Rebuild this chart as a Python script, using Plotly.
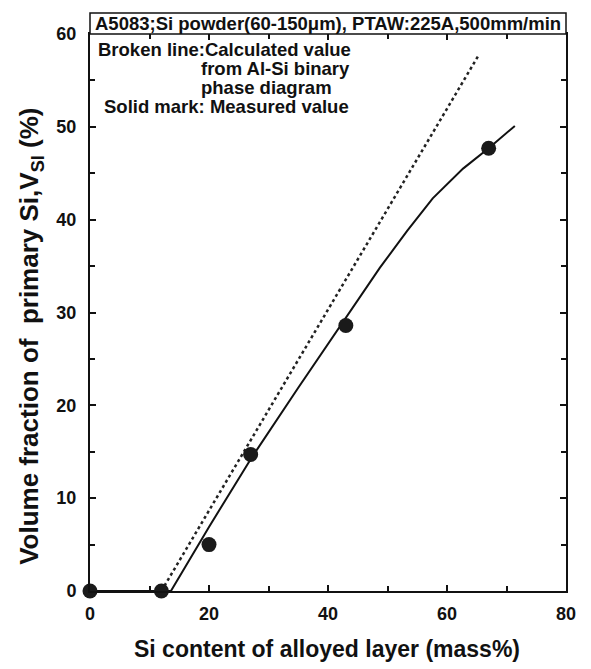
import plotly.graph_objects as go

# Measured values (solid marks)
meas_x = [0, 12, 20, 27, 43, 67]
meas_y = [0, 0, 5.0, 14.7, 28.6, 47.7]

# Solid fitted curve
curve_x = [0, 13.6, 20, 27, 35, 43, 48.7, 53.3, 57.6, 62.7, 67.2, 71.4]
curve_y = [0, 0, 6.9, 14.2, 21.9, 29.4, 34.8, 38.8, 42.3, 45.5, 47.8, 50.1]

# Broken line: calculated from Al-Si binary phase diagram
calc_x = [12, 65.4]
calc_y = [0, 57.8]

x_ticks = [0, 20, 40, 60, 80]
y_ticks = [0, 10, 20, 30, 40, 50, 60]

FONT = "Liberation Sans, Arial, Helvetica, sans-serif"

fig = go.Figure()
fig.add_trace(go.Scatter(x=calc_x, y=calc_y, mode="lines",
                         line=dict(color="#222", width=2.5, dash="dot"),
                         showlegend=False))
fig.add_trace(go.Scatter(x=curve_x, y=curve_y, mode="lines",
                         line=dict(color="#111", width=2),
                         showlegend=False))
fig.add_trace(go.Scatter(x=meas_x, y=meas_y, mode="markers",
                         marker=dict(color="#1a1a1a", size=15),
                         cliponaxis=False, showlegend=False))

axis_common = dict(showline=True, linecolor="#111", linewidth=2, mirror="ticks",
                   ticks="inside", ticklen=6, tickwidth=1.5, tickcolor="#111",
                   showgrid=False, zeroline=False,
                   tickfont=dict(family=FONT, size=18, color="#111", weight="bold"))

fig.update_xaxes(range=[0, 80], tickvals=x_ticks, ticklabelstandoff=5,
                 minor=dict(ticks="inside", dtick=10, ticklen=5, tickcolor="#111", tickwidth=1.5),
                 **axis_common)
fig.update_yaxes(range=[0, 60], tickvals=y_ticks, ticklabelstandoff=8,
                 minor=dict(ticks="inside", dtick=5, ticklen=5, tickcolor="#111", tickwidth=1.5),
                 **axis_common)

# Axis titles as annotations for exact placement
fig.add_annotation(xref="paper", yref="paper", x=0.497, y=-0.104,
                   xanchor="center", yanchor="middle", showarrow=False,
                   text="Si content of alloyed layer (mass%)",
                   font=dict(family=FONT, size=23, color="#111", weight="bold"))
fig.add_annotation(xref="paper", yref="paper", x=-0.124, y=0.458,
                   xanchor="center", yanchor="middle", showarrow=False, textangle=-90,
                   text="Volume fraction of&nbsp; primary Si,V<sub>SI</sub> (%)",
                   font=dict(family=FONT, size=26, color="#111", weight="bold"))

ann_font = dict(family=FONT, size=18.5, color="#111", weight="bold")
annotations = [
    dict(x=0.0147, y=0.9722, text="Broken line:Calculated value", xanchor="left"),
    dict(x=0.231, y=0.9381, text="from Al-Si binary", xanchor="left"),
    dict(x=0.231, y=0.9039, text="phase diagram", xanchor="left"),
    dict(x=0.027, y=0.8698, text="Solid mark: Measured value", xanchor="left"),
]
for a in annotations:
    fig.add_annotation(xref="paper", yref="paper", yanchor="middle", showarrow=False,
                       borderpad=0, font=ann_font, **a)

# Header box above the plot
fig.add_shape(type="rect", xref="paper", yref="paper", x0=0, x1=1, y0=1, y1=1.0377,
              line=dict(color="#111", width=1.5), fillcolor="white")
fig.add_annotation(xref="paper", yref="paper", x=0.5, y=1.019, yanchor="middle",
                   text="A5083;Si powder(60-150\u03bcm), PTAW:225A,500mm/min",
                   showarrow=False,
                   font=dict(family=FONT, size=18.5, color="#111", weight="bold"))

# page body has an 8px margin, so the figure is sized/offset to compensate
fig.update_layout(width=583, height=661, plot_bgcolor="white", paper_bgcolor="white",
                  margin=dict(l=82, r=25, t=26, b=78))

fig.write_html("out.html")
